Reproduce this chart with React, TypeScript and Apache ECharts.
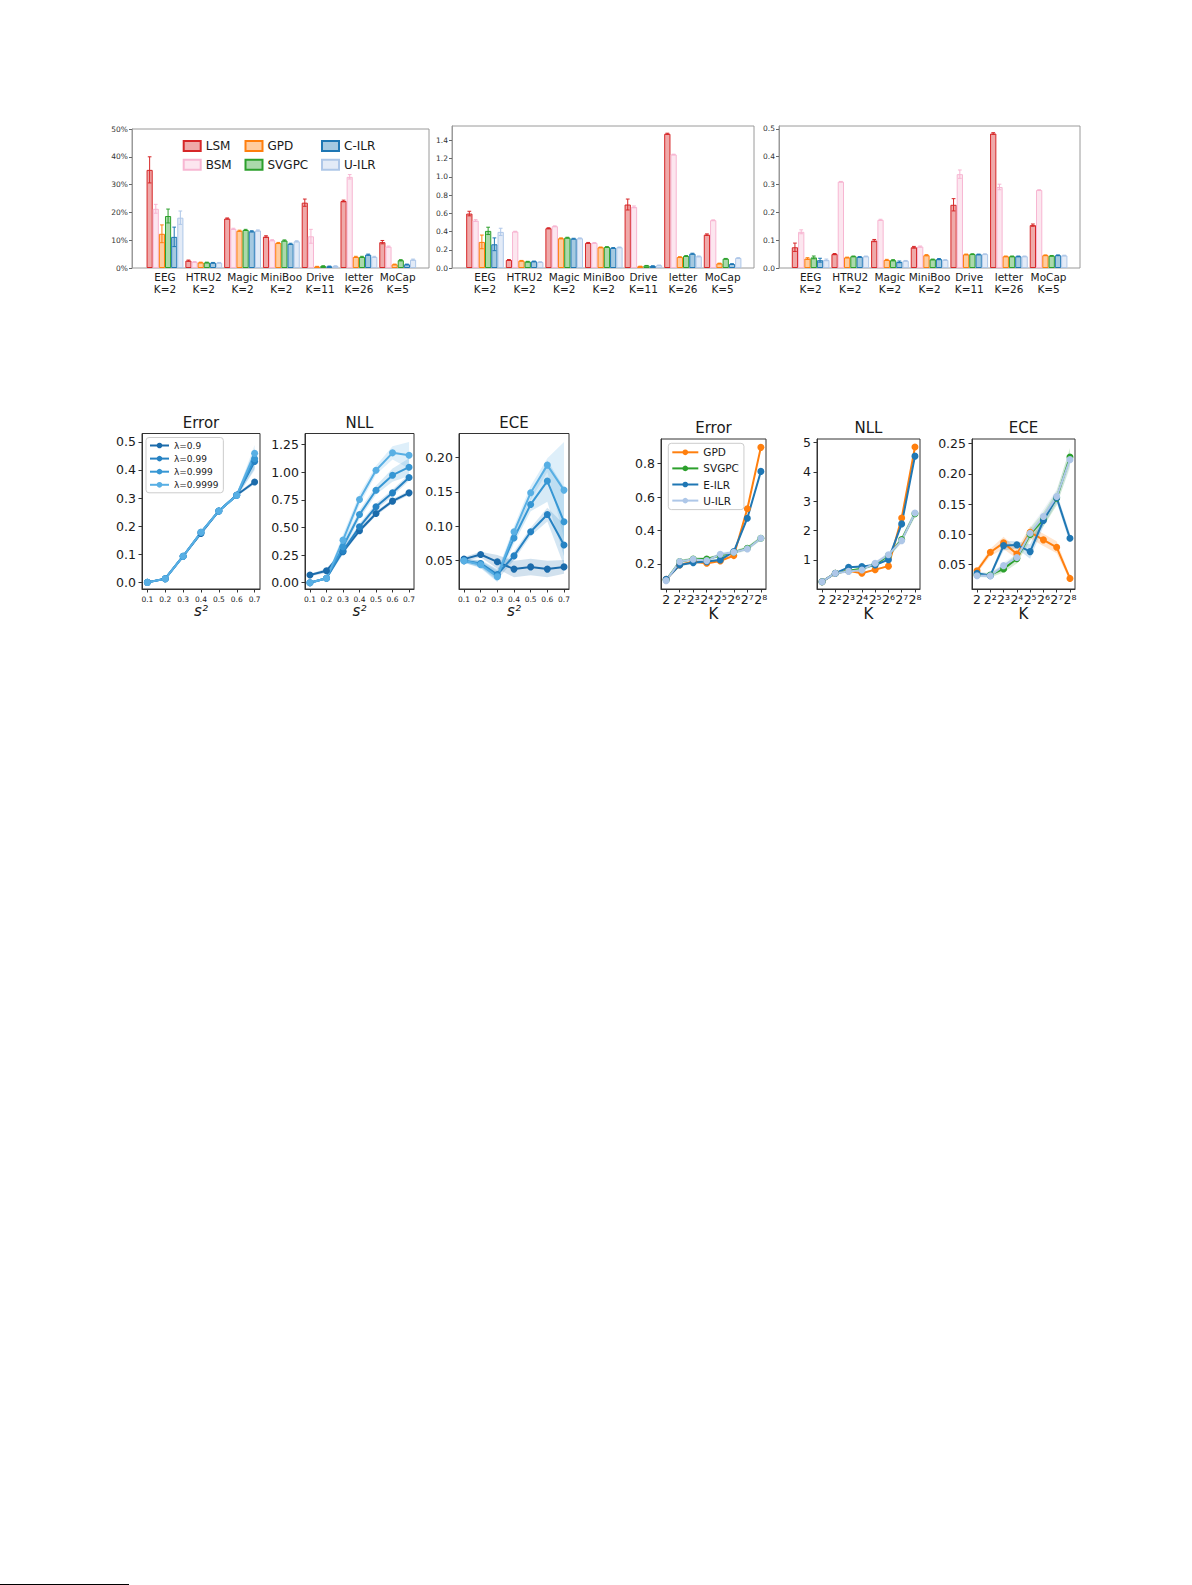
import { useEffect, useRef } from 'react';
import * as echarts from 'echarts';

const FONT = 'DejaVu Sans';

// ---- top row: bar charts per dataset ----
const DATASETS = ['EEG', 'HTRU2', 'Magic', 'MiniBoo', 'Drive', 'letter', 'MoCap'];
const CLASSES = [2, 2, 2, 2, 11, 26, 5];
const METHODS = ['LSM', 'BSM', 'GPD', 'SVGPC', 'C-ILR', 'U-ILR'];
const METHOD_COLORS = ['#d62728', '#f7b6d2', '#ff7f0e', '#2ca02c', '#1f77b4', '#aec7e8'];

// error rate in %, rows = method, cols = dataset
const ERR_PCT = [
  [35.3, 2.65, 17.8, 11.3, 23.5, 24.1, 9.3],
  [21.3, 2.2, 14.1, 10.0, 11.4, 32.8, 7.7],
  [12.3, 2.0, 13.4, 9.0, 0.5, 4.0, 1.3],
  [18.7, 2.0, 13.7, 9.9, 0.7, 4.0, 2.8],
  [11.2, 1.9, 13.2, 8.7, 0.6, 4.8, 1.3],
  [18.1, 1.9, 13.5, 9.6, 0.7, 4.0, 3.0],
];
const ERR_PCT_SD = [
  [4.7, 0.2, 0.2, 0.3, 1.3, 0.3, 0.6],
  [1.6, 0.1, 0.2, 0.2, 2.5, 0.8, 0.2],
  [3.2, 0.1, 0.2, 0.2, 0.1, 0.2, 0.1],
  [2.5, 0.1, 0.2, 0.2, 0.1, 0.2, 0.2],
  [3.5, 0.1, 0.2, 0.2, 0.1, 0.2, 0.1],
  [2.4, 0.1, 0.2, 0.2, 0.1, 0.2, 0.2],
];
const NLL_BAR = [
  [0.597, 0.088, 0.436, 0.275, 0.696, 1.472, 0.366],
  [0.52, 0.4, 0.458, 0.275, 0.67, 1.245, 0.524],
  [0.286, 0.08, 0.326, 0.227, 0.018, 0.12, 0.05],
  [0.407, 0.07, 0.333, 0.231, 0.026, 0.132, 0.102],
  [0.26, 0.073, 0.322, 0.22, 0.022, 0.157, 0.044],
  [0.396, 0.066, 0.326, 0.227, 0.03, 0.128, 0.11],
];
const NLL_BAR_SD = [
  [0.025, 0.005, 0.005, 0.005, 0.06, 0.006, 0.008],
  [0.01, 0.003, 0.004, 0.004, 0.01, 0.003, 0.004],
  [0.075, 0.003, 0.004, 0.003, 0.002, 0.004, 0.003],
  [0.04, 0.003, 0.004, 0.003, 0.002, 0.004, 0.003],
  [0.07, 0.003, 0.004, 0.004, 0.002, 0.005, 0.003],
  [0.04, 0.003, 0.004, 0.003, 0.002, 0.004, 0.003],
];
const ECE_BAR = [
  [0.0745, 0.05, 0.0985, 0.0745, 0.227, 0.483, 0.154],
  [0.13, 0.31, 0.173, 0.077, 0.337, 0.291, 0.28],
  [0.034, 0.038, 0.029, 0.046, 0.049, 0.042, 0.046],
  [0.038, 0.042, 0.028, 0.031, 0.05, 0.042, 0.044],
  [0.028, 0.04, 0.022, 0.032, 0.049, 0.042, 0.046],
  [0.029, 0.042, 0.026, 0.029, 0.05, 0.042, 0.045],
];
const ECE_BAR_SD = [
  [0.015, 0.002, 0.004, 0.003, 0.022, 0.003, 0.004],
  [0.007, 0.001, 0.002, 0.002, 0.015, 0.01, 0.001],
  [0.003, 0.001, 0.002, 0.002, 0.001, 0.001, 0.001],
  [0.005, 0.001, 0.002, 0.001, 0.001, 0.001, 0.001],
  [0.007, 0.001, 0.003, 0.002, 0.001, 0.001, 0.001],
  [0.003, 0.001, 0.001, 0.001, 0.001, 0.001, 0.001],
];

// ---- bottom left: varying s^2 ----
const S2 = [0.1, 0.2, 0.3, 0.4, 0.5, 0.6, 0.7];
const LAMBDAS = ['λ=0.9', 'λ=0.99', 'λ=0.999', 'λ=0.9999'];
const LAMBDA_COLORS = ['#1b6bab', '#2682c3', '#3797d4', '#58afe4'];
const S2_ERROR = [
  [0.0, 0.013, 0.093, 0.174, 0.254, 0.311, 0.357],
  [0.0, 0.013, 0.093, 0.178, 0.254, 0.31, 0.43],
  [0.0, 0.013, 0.093, 0.178, 0.254, 0.31, 0.44],
  [0.0, 0.013, 0.093, 0.178, 0.254, 0.31, 0.459],
];
const S2_ERROR_BAND = [
  [0.002, 0.002, 0.003, 0.004, 0.004, 0.005, 0.008],
  [0.002, 0.002, 0.003, 0.004, 0.004, 0.006, 0.03],
  [0.002, 0.002, 0.003, 0.004, 0.004, 0.006, 0.035],
  [0.002, 0.002, 0.003, 0.004, 0.004, 0.006, 0.03],
];
const S2_NLL = [
  [0.069, 0.108, 0.28, 0.47, 0.626, 0.738, 0.813],
  [0.0, 0.04, 0.286, 0.506, 0.687, 0.813, 0.952],
  [0.0, 0.04, 0.325, 0.617, 0.837, 0.973, 1.045],
  [0.0, 0.04, 0.385, 0.753, 1.018, 1.175, 1.154],
];
const S2_NLL_BAND = [
  [0.01, 0.02, 0.02, 0.02, 0.02, 0.02, 0.02],
  [0.01, 0.01, 0.03, 0.03, 0.03, 0.03, 0.03],
  [0.01, 0.01, 0.04, 0.04, 0.04, 0.06, 0.08],
  [0.01, 0.01, 0.05, 0.05, 0.04, 0.06, 0.12],
];
const S2_ECE = [
  [0.0523, 0.059, 0.0484, 0.0378, 0.041, 0.0378, 0.041],
  [0.05, 0.046, 0.03, 0.057, 0.092, 0.117, 0.0727],
  [0.05, 0.045, 0.028, 0.083, 0.1317, 0.1656, 0.1065],
  [0.05, 0.044, 0.0266, 0.092, 0.1486, 0.1888, 0.1525],
];
const S2_ECE_BAND = [
  [0.003, 0.004, 0.01, 0.012, 0.012, 0.012, 0.01],
  [0.003, 0.005, 0.008, 0.006, 0.006, 0.01, 0.03],
  [0.003, 0.005, 0.008, 0.008, 0.01, 0.03, 0.05],
  [0.003, 0.005, 0.008, 0.008, 0.01, 0.01, 0.07],
];

// ---- bottom right: varying number of classes K = 2^p ----
const K_POW = [1, 2, 3, 4, 5, 6, 7, 8];
const K_LABELS = ['2', '2²', '2³', '2⁴', '2⁵', '2⁶', '2⁷', '2⁸'];
const K_METHODS = ['GPD', 'SVGPC', 'E-ILR', 'U-ILR'];
const K_COLORS = ['#ff7f0e', '#2ca02c', '#1f77b4', '#aec7e8'];
const K_ERROR = [
  [0.108, 0.194, 0.214, 0.204, 0.218, 0.25, 0.53, 0.898],
  [0.104, 0.214, 0.23, 0.23, 0.25, 0.27, 0.294, 0.354],
  [0.108, 0.194, 0.208, 0.214, 0.224, 0.274, 0.474, 0.754],
  [0.1, 0.214, 0.228, 0.22, 0.258, 0.27, 0.29, 0.354],
];
const K_ERROR_BAND = [
  [0.006, 0.008, 0.008, 0.008, 0.008, 0.008, 0.01, 0.01],
  [0.006, 0.01, 0.01, 0.01, 0.01, 0.01, 0.012, 0.012],
  [0.006, 0.008, 0.008, 0.008, 0.008, 0.008, 0.01, 0.01],
  [0.006, 0.01, 0.01, 0.01, 0.01, 0.01, 0.012, 0.012],
];
const K_NLL = [
  [0.26, 0.55, 0.63, 0.55, 0.67, 0.79, 2.43, 4.85],
  [0.26, 0.55, 0.63, 0.7, 0.85, 1.15, 1.7, 2.58],
  [0.26, 0.55, 0.75, 0.78, 0.83, 1.01, 2.23, 4.54],
  [0.26, 0.55, 0.61, 0.66, 0.89, 1.18, 1.66, 2.6],
];
const K_NLL_BAND = [
  [0.02, 0.02, 0.03, 0.03, 0.03, 0.03, 0.05, 0.08],
  [0.02, 0.03, 0.03, 0.04, 0.06, 0.08, 0.1, 0.12],
  [0.02, 0.02, 0.03, 0.03, 0.03, 0.03, 0.05, 0.06],
  [0.02, 0.03, 0.03, 0.04, 0.06, 0.08, 0.1, 0.12],
];
const K_ECE = [
  [0.04, 0.0705, 0.086, 0.0677, 0.1036, 0.091, 0.0787, 0.0273],
  [0.033, 0.033, 0.043, 0.06, 0.1, 0.125, 0.16, 0.228],
  [0.0357, 0.0318, 0.0815, 0.0827, 0.0716, 0.123, 0.1606, 0.0937],
  [0.0318, 0.0318, 0.0484, 0.062, 0.102, 0.1296, 0.1627, 0.2236],
];
const K_ECE_BAND = [
  [0.004, 0.006, 0.01, 0.008, 0.01, 0.01, 0.01, 0.004],
  [0.003, 0.004, 0.006, 0.008, 0.01, 0.012, 0.012, 0.015],
  [0.003, 0.003, 0.008, 0.006, 0.012, 0.01, 0.008, 0.008],
  [0.003, 0.003, 0.005, 0.006, 0.01, 0.012, 0.012, 0.015],
];

function rgba(hex: string, a: number) {
  const n = parseInt(hex.slice(1), 16);
  return `rgba(${(n >> 16) & 255},${(n >> 8) & 255},${n & 255},${a})`;
}

const range = (a: number, b: number, step: number) => {
  const out: number[] = [];
  for (let v = a; v <= b + step / 1000; v += step) out.push(Math.round(v * 1e6) / 1e6);
  return out;
};

const renderErrBar = (_params: any, api: any) => {
  const ci = api.value(0);
  const mi = api.value(1);
  const mean = api.value(2);
  const sd = api.value(3);
  const band = api.size([1, 0])[0];
  const barW = (band * 0.95) / METHODS.length;
  const cx = api.coord([ci, mean])[0] + (mi - (METHODS.length - 1) / 2) * barW;
  const yHi = api.coord([ci, mean + sd])[1];
  const yLo = api.coord([ci, Math.max(0, mean - sd)])[1];
  const cap = barW * 0.3;
  const style = { stroke: METHOD_COLORS[mi], lineWidth: 1 };
  return {
    type: 'group',
    children: [
      { type: 'line', shape: { x1: cx, y1: yHi, x2: cx, y2: yLo }, style },
      { type: 'line', shape: { x1: cx - cap, y1: yHi, x2: cx + cap, y2: yHi }, style },
      { type: 'line', shape: { x1: cx - cap, y1: yLo, x2: cx + cap, y2: yLo }, style },
    ],
  };
};

const BAR_PANELS = [
  { frame: [132, 129, 429, 268], inner: [145.6, 417.1], yMax: 50, ticks: range(0, 50, 10), fmt: (v: number) => `${v}%`, values: ERR_PCT, sd: ERR_PCT_SD },
  { frame: [452, 126, 754, 268], inner: [465.2, 742.4], yMax: 1.557, ticks: range(0, 1.4, 0.2), fmt: (v: number) => v.toFixed(1), values: NLL_BAR, sd: NLL_BAR_SD },
  { frame: [779, 126, 1080, 268], inner: [790.8, 1068.4], yMax: 0.51, ticks: range(0, 0.5, 0.1), fmt: (v: number) => v.toFixed(1), values: ECE_BAR, sd: ECE_BAR_SD },
];

interface LinePanel {
  frame: number[];
  xMin: number;
  xMax: number;
  xTicks: number[];
  xFmt: (v: number) => string;
  xFont: number;
  xMargin: number;
  xName: string;
  nameGap: number;
  italicName: boolean;
  yMin: number;
  yMax: number;
  yTicks: number[];
  yFmt: (v: number) => string;
  names: string[];
  colors: string[];
  xs: number[];
  ys: number[][];
  bands: number[][];
  title: string;
  titleY: number;
}

const s2Fmt = (v: number) => v.toFixed(1);
const kFmt = (v: number) => K_LABELS[Math.round(v) - 1] ?? '';

const LINE_PANELS: LinePanel[] = [
  { frame: [142, 433.5, 260, 589], xMin: 0.07, xMax: 0.73, xTicks: S2, xFmt: s2Fmt, xFont: 7.5, xMargin: 6, xName: 's²', nameGap: 11, italicName: true, yMin: -0.0236, yMax: 0.5296, yTicks: range(0, 0.5, 0.1), yFmt: (v) => v.toFixed(1), names: LAMBDAS, colors: LAMBDA_COLORS, xs: S2, ys: S2_ERROR, bands: S2_ERROR_BAND, title: 'Error', titleY: 423.3 },
  { frame: [305, 433.5, 414, 589], xMin: 0.07, xMax: 0.73, xTicks: S2, xFmt: s2Fmt, xFont: 7.5, xMargin: 6, xName: 's²', nameGap: 11, italicName: true, yMin: -0.057, yMax: 1.35, yTicks: range(0, 1.25, 0.25), yFmt: (v) => v.toFixed(2), names: LAMBDAS, colors: LAMBDA_COLORS, xs: S2, ys: S2_NLL, bands: S2_NLL_BAND, title: 'NLL', titleY: 423.3 },
  { frame: [459, 433.5, 569, 589], xMin: 0.07, xMax: 0.73, xTicks: S2, xFmt: s2Fmt, xFont: 7.5, xMargin: 6, xName: 's²', nameGap: 11, italicName: true, yMin: 0.0089, yMax: 0.2347, yTicks: range(0.05, 0.2, 0.05), yFmt: (v) => v.toFixed(2), names: LAMBDAS, colors: LAMBDA_COLORS, xs: S2, ys: S2_ECE, bands: S2_ECE_BAND, title: 'ECE', titleY: 423.3 },
  { frame: [661, 439, 766, 589], xMin: 0.62, xMax: 8.38, xTicks: K_POW, xFmt: kFmt, xFont: 12.5, xMargin: 4, xName: 'K', nameGap: 14, italicName: false, yMin: 0.05, yMax: 0.948, yTicks: range(0.2, 0.8, 0.2), yFmt: (v) => v.toFixed(1), names: K_METHODS.map((m) => 'K:' + m), colors: K_COLORS, xs: K_POW, ys: K_ERROR, bands: K_ERROR_BAND, title: 'Error', titleY: 428.3 },
  { frame: [817, 439, 920, 589], xMin: 0.62, xMax: 8.38, xTicks: K_POW, xFmt: kFmt, xFont: 12.5, xMargin: 4, xName: 'K', nameGap: 14, italicName: false, yMin: 0.01, yMax: 5.125, yTicks: [1, 2, 3, 4, 5], yFmt: (v) => String(v), names: K_METHODS.map((m) => 'K:' + m), colors: K_COLORS, xs: K_POW, ys: K_NLL, bands: K_NLL_BAND, title: 'NLL', titleY: 428.3 },
  { frame: [972, 439, 1075, 589], xMin: 0.62, xMax: 8.38, xTicks: K_POW, xFmt: kFmt, xFont: 12.5, xMargin: 4, xName: 'K', nameGap: 14, italicName: false, yMin: 0.0098, yMax: 0.2577, yTicks: range(0.05, 0.25, 0.05), yFmt: (v) => v.toFixed(2), names: K_METHODS.map((m) => 'K:' + m), colors: K_COLORS, xs: K_POW, ys: K_ECE, bands: K_ECE_BAND, title: 'ECE', titleY: 428.3 },
];

function buildOption() {
  const grid: any[] = [];
  const xAxis: any[] = [];
  const yAxis: any[] = [];
  const series: any[] = [];
  const graphic: any[] = [];

  // bar panels: an outer frame grid carrying the y axis, an inner grid carrying the categories
  BAR_PANELS.forEach((p) => {
    const [l, t, r, b] = p.frame;
    grid.push({ left: l, top: t, width: r - l, height: b - t, show: true, borderColor: '#9a9a9a', borderWidth: 1 });
    const fg = grid.length - 1;
    xAxis.push({ gridIndex: fg, type: 'value', min: 0, max: 1, show: false });
    yAxis.push({
      gridIndex: fg,
      type: 'value',
      min: 0,
      max: p.yMax,
      axisLine: { show: true, lineStyle: { color: '#9a9a9a' } },
      axisTick: { show: true, length: 3, customValues: p.ticks, lineStyle: { color: '#666' } },
      axisLabel: { customValues: p.ticks, formatter: p.fmt, fontSize: 7.5, color: '#333', margin: 4, fontFamily: FONT },
      splitLine: { show: false },
    });
    grid.push({ left: p.inner[0], top: t, width: p.inner[1] - p.inner[0], height: b - t });
    const dg = grid.length - 1;
    xAxis.push({
      gridIndex: dg,
      type: 'category',
      data: DATASETS.map((d, i) => `${d}\nK=${CLASSES[i]}`),
      axisLine: { show: false },
      axisTick: { show: false },
      axisLabel: { interval: 0, fontSize: 10.5, lineHeight: 12, color: '#1a1a1a', margin: 3, fontFamily: FONT },
    });
    yAxis.push({ gridIndex: dg, type: 'value', min: 0, max: p.yMax, show: false });
    const xi = xAxis.length - 1;
    const yi = yAxis.length - 1;
    METHODS.forEach((m, mi) => {
      series.push({
        type: 'bar',
        name: m,
        xAxisIndex: xi,
        yAxisIndex: yi,
        data: p.values[mi],
        barGap: '0%',
        barCategoryGap: '5%',
        silent: true,
        itemStyle: { color: rgba(METHOD_COLORS[mi], mi === 1 || mi === 5 ? 0.35 : 0.4), borderColor: METHOD_COLORS[mi], borderWidth: 1 },
      });
    });
    const errData: number[][] = [];
    METHODS.forEach((_m, mi) => DATASETS.forEach((_d, ci) => errData.push([ci, mi, p.values[mi][ci], p.sd[mi][ci]])));
    series.push({ type: 'custom', xAxisIndex: xi, yAxisIndex: yi, data: errData, renderItem: renderErrBar, silent: true, z: 5 });
  });

  // line panels
  LINE_PANELS.forEach((p) => {
    const [l, t, r, b] = p.frame;
    grid.push({ left: l, top: t, width: r - l, height: b - t, show: true, borderColor: '#333', borderWidth: 1 });
    const gi = grid.length - 1;
    xAxis.push({
      gridIndex: gi,
      type: 'value',
      min: p.xMin,
      max: p.xMax,
      axisLine: { show: true, onZero: false, lineStyle: { color: '#333' } },
      axisTick: { show: true, length: 3.5, customValues: p.xTicks, lineStyle: { color: '#333' } },
      axisLabel: { customValues: p.xTicks, formatter: p.xFmt, fontSize: p.xFont, color: '#1a1a1a', margin: p.xMargin, fontFamily: FONT },
      splitLine: { show: false },
      name: p.xName,
      nameLocation: 'middle',
      nameGap: p.nameGap,
      nameTextStyle: { fontSize: 15, color: '#1a1a1a', fontFamily: FONT, fontStyle: p.italicName ? 'italic' : 'normal' },
    });
    yAxis.push({
      gridIndex: gi,
      type: 'value',
      min: p.yMin,
      max: p.yMax,
      axisLine: { show: true, onZero: false, lineStyle: { color: '#333' } },
      axisTick: { show: true, length: 3.5, customValues: p.yTicks, lineStyle: { color: '#333' } },
      axisLabel: { customValues: p.yTicks, formatter: p.yFmt, fontSize: 12.5, color: '#1a1a1a', margin: 6, fontFamily: FONT },
      splitLine: { show: false },
    });
    const xi = xAxis.length - 1;
    const yi = yAxis.length - 1;
    p.names.forEach((_n, si) => {
      const ys = p.ys[si];
      const hw = p.bands[si];
      series.push({
        type: 'custom',
        xAxisIndex: xi,
        yAxisIndex: yi,
        silent: true,
        clip: true,
        z: 1,
        data: [[p.xs[0], ys[0]]],
        renderItem: (_params: any, api: any) => {
          const up = p.xs.map((x, i) => api.coord([x, ys[i] + hw[i]]));
          const lo = p.xs.map((x, i) => api.coord([x, ys[i] - hw[i]])).reverse();
          return { type: 'polygon', shape: { points: up.concat(lo) }, style: { fill: rgba(p.colors[si], 0.2) } };
        },
      });
    });
    p.names.forEach((n, si) => {
      series.push({
        type: 'line',
        name: n,
        xAxisIndex: xi,
        yAxisIndex: yi,
        data: p.xs.map((x, i) => [x, p.ys[si][i]]),
        symbol: 'circle',
        symbolSize: 7,
        showSymbol: true,
        silent: true,
        z: 3,
        lineStyle: { width: 2, color: p.colors[si] },
        itemStyle: { color: p.colors[si] },
      });
    });
    graphic.push({
      type: 'text',
      x: (l + r) / 2,
      y: p.titleY,
      style: { text: p.title, fontSize: 15, fontFamily: FONT, fill: '#1a1a1a', align: 'center', verticalAlign: 'middle' },
    });
  });

  graphic.push({ type: 'line', shape: { x1: 0, y1: 1584.5, x2: 129, y2: 1584.5 }, style: { stroke: '#000', lineWidth: 1 } });

  const barLegend = (names: string[], left: number) => ({
    data: names,
    left,
    top: 140,
    orient: 'vertical',
    padding: 0,
    icon: 'rect',
    itemWidth: 17,
    itemHeight: 10,
    itemGap: 6.7,
    selectedMode: false,
    textStyle: { fontSize: 12, color: '#1a1a1a', fontFamily: FONT, lineHeight: 10 },
  });

  const legend = [
    barLegend(['LSM', 'BSM'], 182.7),
    barLegend(['GPD', 'SVGPC'], 244.5),
    barLegend(['C-ILR', 'U-ILR'], 321),
    {
      data: LAMBDAS,
      left: 146,
      top: 437.5,
      orient: 'vertical',
      padding: [3, 5, 3, 3],
      itemWidth: 19,
      itemHeight: 7,
      itemGap: 3.1,
      selectedMode: false,
      backgroundColor: 'rgba(255,255,255,0.8)',
      borderColor: '#ccc',
      borderWidth: 1,
      borderRadius: 3,
      textStyle: { fontSize: 9, color: '#1a1a1a', fontFamily: FONT, lineHeight: 10 },
    },
    {
      data: K_METHODS.map((m) => 'K:' + m),
      formatter: (name: string) => name.slice(2),
      left: 668.3,
      top: 443.3,
      orient: 'vertical',
      padding: [3, 5, 3, 3],
      itemWidth: 26,
      itemHeight: 7,
      itemGap: 4.1,
      selectedMode: false,
      backgroundColor: 'rgba(255,255,255,0.8)',
      borderColor: '#ccc',
      borderWidth: 1,
      borderRadius: 3,
      textStyle: { fontSize: 10.5, color: '#1a1a1a', fontFamily: FONT, lineHeight: 12 },
    },
  ];

  return {
    animation: false,
    backgroundColor: '#fff',
    textStyle: { fontFamily: FONT },
    grid,
    xAxis,
    yAxis,
    legend,
    series,
    graphic,
  };
}

export default function App() {
  const ref = useRef<HTMLDivElement | null>(null);

  useEffect(() => {
    if (!ref.current) return undefined;
    const chart = echarts.init(ref.current, undefined, { renderer: 'svg' });
    chart.setOption(buildOption());
    return () => {
      chart.dispose();
    };
  }, []);

  return (
    <div
      ref={ref}
      style={{ position: 'absolute', left: 0, top: 0, width: 1192, height: 1585, background: '#fff' }}
    />
  );
}
